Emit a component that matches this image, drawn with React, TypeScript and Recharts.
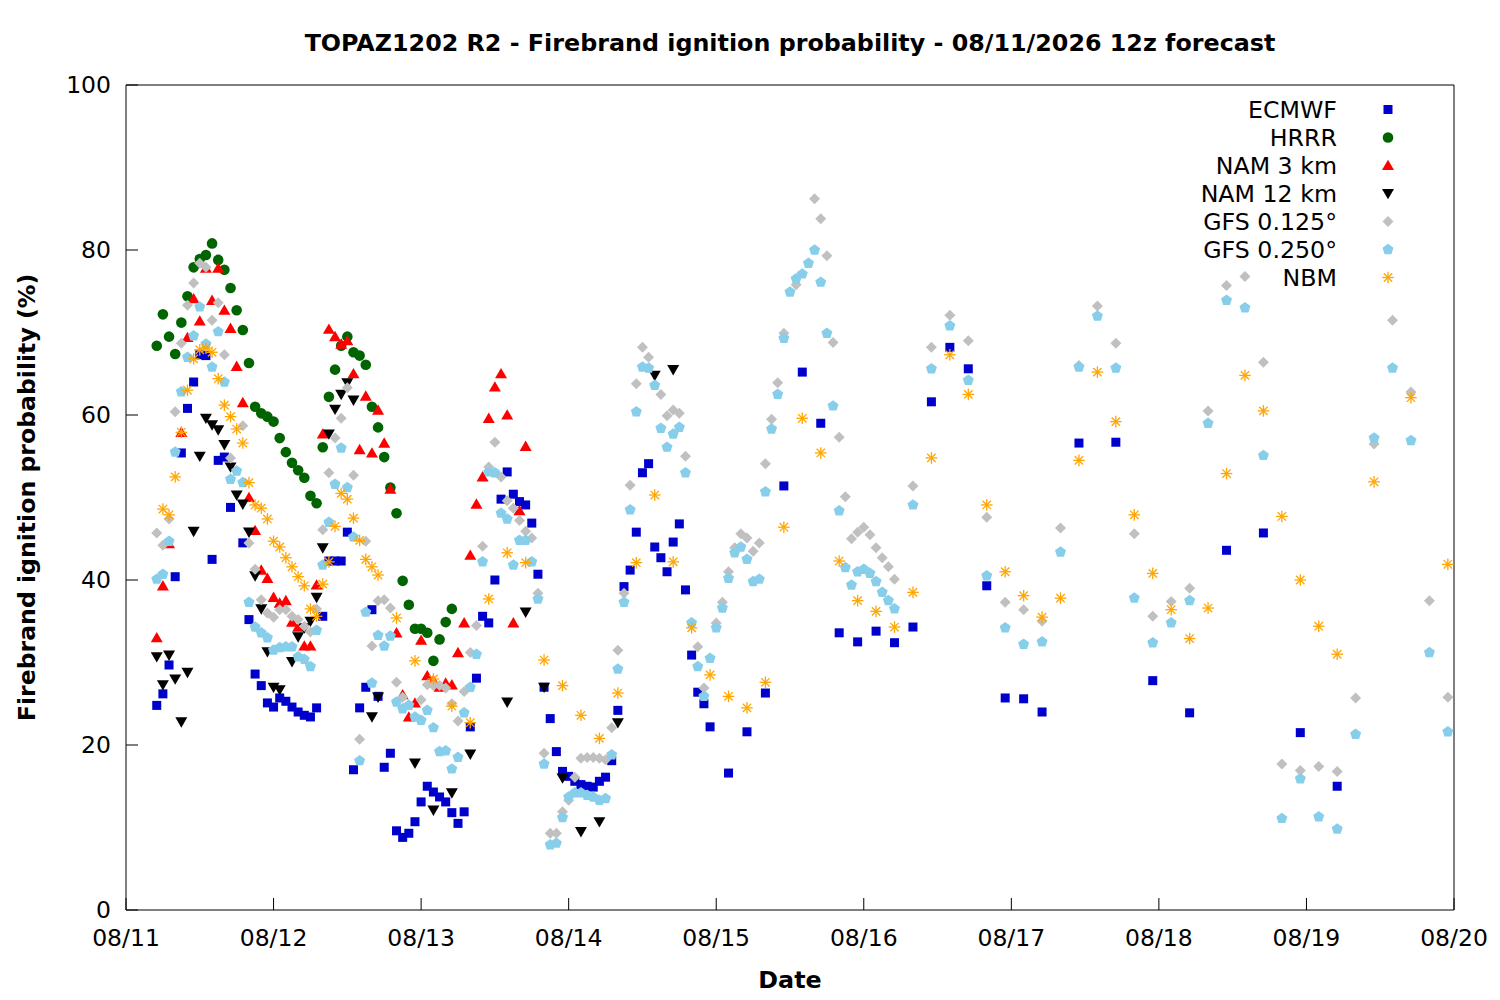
import React from 'react';
import { ScatterChart, Scatter, XAxis, YAxis } from 'recharts';

// ---------- time grids (hours after 08/11 00h) ----------
const range = (a: number, b: number, s: number): number[] => {
  const r: number[] = [];
  for (let h = a; h <= b; h += s) r.push(h);
  return r;
};

const dateTicks = [0, 24, 48, 72, 96, 120, 144, 168, 192, 216];
const dateLabels = ['08/11', '08/12', '08/13', '08/14', '08/15', '08/16', '08/17', '08/18', '08/19', '08/20'];
const probTicks = [0, 20, 40, 60, 80, 100];

const TITLE = 'TOPAZ1202 R2 - Firebrand ignition probability - 08/11/2026 12z forecast';

// ---------- ECMWF ----------
const ecmwfHours = [...range(5, 95, 1), ...range(98, 149, 3), ...range(155, 197, 6)];
const ecmwfValues: (number | null)[] = [
  24.8, 26.2, 29.7, 40.4, 55.4, 60.8, 64.0, 67.3, 67.2, 42.5,
  54.5, 54.9, 48.8, null, 44.5, 35.2, 28.6, 27.2, 25.1, 24.6,
  25.7, 25.3, 24.6, 24.0, 23.6, 23.4, 24.5, 35.6, 42.3, 42.3,
  42.3, 45.8, 17.0, 24.5, 27.0, 36.4, 25.9, 17.3, 19.0, 9.6,
  8.8, 9.3, 10.7, 13.1, 15.0, 14.3, 13.7, 13.1, 11.8, 10.5,
  11.9, 22.2, 28.1, 35.6, 34.8, 40.0, 49.8, 53.1, 50.4, 49.5,
  49.1, 46.9, 40.7, 27.0, 23.2, 19.2, 16.8, 16.2, 15.6, 15.2,
  15.0, 14.9, 15.6, 16.1, 18.1, 24.2, 39.2, 41.2, 45.8, 53.0,
  54.1, 44.0, 42.7, 41.0, 44.6, 46.8, 38.8, 30.9, 26.4, 25.0,
  22.2,
  16.6, 21.6, 26.3, 51.4, 65.2, 59.0, 33.6, 32.5, 33.8, 32.4,
  34.3, 61.6, 68.2, 65.6, 39.3, 25.7, 25.6, 24.0,
  56.6, 56.7, 27.8, 23.9, 43.6, 45.7, 21.5, 15.0,
];

// ---------- HRRR ----------
const hrrrHours = range(5, 53, 1);
const hrrrValues: (number | null)[] = [
  68.4, 72.2, 69.5, 67.4, 71.2, 74.4, 77.9, 78.9, 79.4, 80.8,
  78.8, 77.6, 75.4, 72.7, 70.3, 66.3, 61.0, 60.2, 59.8, 59.2,
  57.2, 55.5, 54.2, 53.3, 52.4, 50.2, 49.3, 56.1, 62.2, 65.5,
  68.4, 69.5, 67.6, 67.2, 66.1, 61.0, 58.5, 54.9, 51.2, 48.1,
  39.9, 37.0, 34.1, 34.1, 33.6, 30.2, 32.8, 34.9, 36.5,
];

// ---------- NAM 3 km ----------
const nam3Hours = range(5, 65, 1);
const nam3Values: (number | null)[] = [
  33.0, 39.3, 44.4, null, 57.9, 69.4, 74.1, 71.4, 77.8, 73.9,
  77.8, 72.7, 70.5, 65.9, 61.5, 50.0, 46.0, 41.2, 40.2, 37.9,
  37.2, 37.5, 34.9, 34.3, 32.0, 32.0, 39.4, 57.7, 70.4, 69.5,
  68.6, 69.0, 65.0, 55.8, 62.3, 55.4, 60.6, 56.6, 51.0, 33.6,
  26.1, 23.4, 25.1, 32.7, 28.4, 27.8, 27.0, 27.5, 27.3, 31.2,
  34.8, 43.0, 49.2, 52.5, 59.6, 63.4, 65.0, 60.0, 34.8, 48.4,
  56.2,
];

// ---------- NAM 12 km ----------
const nam12Hours = [...range(5, 41, 1), ...range(44, 89, 3)];
const nam12Values: (number | null)[] = [
  30.7, 27.3, 30.9, 28.0, 22.8, 28.8, 45.9, 55.0, 59.6, 58.8,
  58.2, 56.4, 53.7, 50.3, 49.2, 45.8, 40.5, 36.5, 31.3, 27.0,
  26.7, null, 30.1, 33.1, 34.2, 35.0, 37.9, 43.9, 57.7, 60.7,
  62.5, 63.9, 61.8, null, null, 23.4, 25.8,
  null, 17.8, 12.1, 14.2, 18.9, null, 25.2, 36.1, 27.0, 16.0,
  9.5, 10.7, 22.7, null, 64.8, 65.5,
];

// ---------- GFS 0.125° ----------
const gfs125Hours = [...range(5, 125, 1), ...range(128, 215, 3)];
const gfs125Values: (number | null)[] = [
  45.7, 44.2, 47.4, 60.4, 68.7, 73.3, 76.0, 78.4, 77.9, 71.5,
  73.6, 67.3, 54.8, null, 58.7, 44.5, 41.3, 37.6, 36.0, 35.5,
  36.4, 36.4, 35.6, 35.2, 34.4, 33.7, 36.5, 46.1, 53.0, 57.2,
  59.6, 63.3, 52.7, 20.7, 44.7, 32.0, 37.5, 37.6, 36.6, 27.6,
  25.8, null, null, 25.5, 27.3, 27.2, 27.2, 26.9, 25.0, 22.9,
  26.5, 31.2, 34.5, 44.1, 53.7, 56.7, 52.5, 49.6, 48.7, 47.2,
  45.9, 45.1, 38.4, 19.0, 9.3, 9.3, 11.9, 13.3, 16.1, 18.4,
  18.5, 18.5, 18.4, 18.2, 22.1, 31.5, 38.4, 51.5, 63.8, 68.2,
  67.0, null, 62.5, 59.9, 60.6, 60.2, 55.0, null, 31.9, 26.9,
  null, 34.8, 37.3, 41.0, 43.9, 45.6, 45.1, 43.5, 44.5, 54.1,
  59.5, 63.9, 69.9, null, 75.8, null, null, 86.2, 83.8, 79.3,
  68.8, 57.3, 50.1, 45.0, 45.8, 46.4, 45.5, 43.9, 42.7, 41.6,
  40.1,
  51.4, 68.2, 72.1, 69.0, 47.6, 37.3, 36.4, 35.0, 46.3, 66.0,
  73.2, 68.7, 45.6, 35.6, 37.4, 39.0, 60.5, 75.7, 76.8, 66.4,
  17.7, 16.9, 17.4, 16.8, 25.7, 56.5, 71.5, 62.8, 37.5, 25.8,
];

// ---------- GFS 0.250° ----------
const gfs250Hours = [...range(5, 125, 1), ...range(128, 215, 3)];
const gfs250Values: (number | null)[] = [
  40.1, 40.7, 44.7, 55.5, 62.8, 67.0, 69.6, 73.1, 68.6, 65.8,
  70.1, 64.0, 52.2, 53.2, 51.8, 37.3, 34.3, 33.6, 33.0, 31.5,
  31.8, 31.9, 31.9, 30.7, 30.4, 29.5, 33.9, 41.8, 47.0, 51.6,
  56.0, 51.2, 45.2, 18.1, 36.1, 27.5, 33.3, 32.0, 33.2, 25.2,
  24.4, 24.8, 23.4, 23.0, 24.2, 22.1, 19.2, 19.3, 17.1, 18.5,
  23.9, 27.0, 31.0, 42.2, 53.1, 53.0, 48.1, 47.4, 41.8, 44.8,
  44.8, 42.2, 37.7, 17.7, 7.9, 8.1, 11.2, 13.7, 14.2, 14.2,
  13.9, 13.7, 13.3, 13.5, 18.8, 29.2, 37.3, 48.5, 60.4, 65.8,
  65.7, 63.6, 58.4, 56.1, 57.7, 58.5, 53.0, 34.8, 29.5, 25.9,
  30.5, 34.2, 36.6, 40.2, 43.3, 44.0, 42.5, 39.8, 40.1, 50.7,
  58.3, 62.5, 69.3, 74.9, 76.5, 77.1, 78.4, 80.0, 76.1, 69.9,
  61.1, 48.4, 41.5, 39.4, 41.0, 41.3, 40.8, 39.8, 38.5, 37.5,
  36.5,
  49.1, 65.6, 70.8, 64.2, 40.5, 34.2, 32.2, 32.5, 43.4, 65.8,
  72.0, 65.7, 37.8, 32.4, 34.8, 37.5, 59.0, 73.9, 73.0, 55.1,
  11.1, 15.9, 11.3, 9.8, 21.3, 57.2, 65.7, 56.9, 31.2, 21.6,
];

// ---------- NBM ----------
const nbmHours = [...range(6, 41, 1), ...range(44, 197, 3), ...range(203, 215, 6)];
const nbmValues: (number | null)[] = [
  48.6, 47.9, 52.5, 57.9, 63.0, 66.8, 67.9, 68.1, 67.6, 64.4,
  61.2, 59.8, 58.3, 56.6, 51.8, 49.1, 48.7, 47.4, 44.7, 44.0,
  42.7, 41.6, 40.4, 39.3, 36.5, 35.6, 39.5, 42.2, 46.5, 50.5,
  49.8, 47.5, 44.8, 42.5, 41.6, 40.6,
  35.4, 30.2, 28.0, 24.7, 22.7, 37.7, 43.3, 42.1, 30.3, 27.2,
  23.6, 20.8, 26.3, 42.1, 50.3, 42.2, 34.2, 28.5, 25.9, 24.5,
  27.6, 46.4, 59.6, 55.4, 42.3, 37.5, 36.2, 34.3, 38.5, 54.8,
  67.3, 62.5, 49.1, 41.0, 38.1, 35.5, 37.8, 54.5, 65.2, 59.2,
  47.9, 40.8, 36.4, 32.9, 36.6, 52.9, 64.8, 60.5, 47.7, 40.0,
  34.4, 31.0,
  51.9, 62.1, 41.9,
];

type Pt = { x: number; y: number };
const toPoints = (hours: number[], values: (number | null)[]): Pt[] =>
  hours
    .map((h, i) => ({ x: h, y: values[i] }))
    .filter((p): p is Pt => p.y !== null && p.y !== undefined);

type Kind = 'square' | 'circle' | 'triUp' | 'triDown' | 'diamond' | 'pentagon' | 'asterisk';

const seriesDefs: { name: string; kind: Kind; color: string; data: Pt[] }[] = [
  { name: 'ECMWF', kind: 'square', color: '#0000cc', data: toPoints(ecmwfHours, ecmwfValues) },
  { name: 'HRRR', kind: 'circle', color: '#006400', data: toPoints(hrrrHours, hrrrValues) },
  { name: 'NAM 3 km', kind: 'triUp', color: '#ff0000', data: toPoints(nam3Hours, nam3Values) },
  { name: 'NAM 12 km', kind: 'triDown', color: '#000000', data: toPoints(nam12Hours, nam12Values) },
  { name: 'GFS 0.125°', kind: 'diamond', color: '#c0c0c0', data: toPoints(gfs125Hours, gfs125Values) },
  { name: 'GFS 0.250°', kind: 'pentagon', color: '#87ceeb', data: toPoints(gfs250Hours, gfs250Values) },
  { name: 'NBM', kind: 'asterisk', color: '#ffa500', data: toPoints(nbmHours, nbmValues) },
];

function Marker({ cx, cy, kind, color }: { cx: number; cy: number; kind: Kind; color: string }) {
  if (cx == null || cy == null || isNaN(cx) || isNaN(cy)) return null;
  switch (kind) {
    case 'square':
      return <rect x={cx - 4.5} y={cy - 4.5} width={9} height={9} fill={color} />;
    case 'circle':
      return <circle cx={cx} cy={cy} r={5.3} fill={color} />;
    case 'triUp':
      return <polygon points={`${cx},${cy - 5.8} ${cx + 6},${cy + 4.6} ${cx - 6},${cy + 4.6}`} fill={color} />;
    case 'triDown':
      return <polygon points={`${cx - 6},${cy - 4.6} ${cx + 6},${cy - 4.6} ${cx},${cy + 5.8}`} fill={color} />;
    case 'diamond':
      return <polygon points={`${cx},${cy - 5.5} ${cx + 5.5},${cy} ${cx},${cy + 5.5} ${cx - 5.5},${cy}`} fill={color} />;
    case 'pentagon': {
      const r = 5.8;
      const pts = [0, 1, 2, 3, 4]
        .map((k) => {
          const a = -Math.PI / 2 + (k * 2 * Math.PI) / 5;
          return `${cx + r * Math.cos(a)},${cy + r * Math.sin(a)}`;
        })
        .join(' ');
      return <polygon points={pts} fill={color} />;
    }
    case 'asterisk': {
      const r = 5.8;
      const d = r * 0.72;
      return (
        <g stroke={color} strokeWidth={1.3}>
          <line x1={cx - r} y1={cy} x2={cx + r} y2={cy} />
          <line x1={cx} y1={cy - r} x2={cx} y2={cy + r} />
          <line x1={cx - d} y1={cy - d} x2={cx + d} y2={cy + d} />
          <line x1={cx - d} y1={cy + d} x2={cx + d} y2={cy - d} />
        </g>
      );
    }
  }
  return null;
}

const W = 1484;
const H = 990;
const FONT = '"DejaVu Sans", sans-serif';

export default function App() {
  return (
    <div style={{ position: 'relative', width: W, height: H, fontFamily: FONT }}>
      <ScatterChart width={W} height={H} margin={{ top: 76, right: 37, bottom: 48, left: 0 }}>
        <XAxis
          xAxisId="b"
          dataKey="x"
          type="number"
          domain={[0, 216]}
          ticks={dateTicks}
          interval={0}
          allowDataOverflow
          height={40}
          tickFormatter={(v: number) => dateLabels[Math.round(v / 24)]}
          tick={{ fontSize: 23.5, fill: '#000' }}
          tickSize={-12}
          tickMargin={31}
          tickLine={{ stroke: '#000' }}
          axisLine={{ stroke: '#000' }}
          label={{ value: 'Date', position: 'bottom', offset: 21, fill: '#000', fontSize: 23.8, fontWeight: 'bold' }}
        />
        <XAxis
          xAxisId="t"
          orientation="top"
          type="number"
          domain={[0, 216]}
          ticks={dateTicks}
          interval={0}
          allowDataOverflow
          height={1}
          tick={false}
          tickSize={-12}
          tickLine={{ stroke: '#000' }}
          axisLine={{ stroke: '#000' }}
          label={{ value: TITLE, position: 'top', offset: 33, fill: '#000', fontSize: 23.8, fontWeight: 'bold' }}
        />
        <YAxis
          yAxisId="l"
          dataKey="y"
          type="number"
          domain={[0, 100]}
          ticks={probTicks}
          interval={0}
          allowDataOverflow
          width={118}
          tick={{ fontSize: 23.5, fill: '#000' }}
          tickSize={-12}
          tickMargin={27}
          tickLine={{ stroke: '#000' }}
          axisLine={{ stroke: '#000' }}
          label={{
            value: 'Firebrand ignition probability (%)',
            angle: -90,
            position: 'insideLeft',
            offset: 19,
            fill: '#000',
            fontSize: 23.6,
            fontWeight: 'bold',
            style: { textAnchor: 'middle' },
          }}
        />
        <YAxis
          yAxisId="r"
          orientation="right"
          type="number"
          domain={[0, 100]}
          ticks={probTicks}
          interval={0}
          allowDataOverflow
          width={1}
          tick={false}
          tickSize={-12}
          tickLine={{ stroke: '#000' }}
          axisLine={{ stroke: '#000' }}
        />
        {seriesDefs.map((s) => (
          <Scatter
            key={s.name}
            name={s.name}
            data={s.data}
            xAxisId="b"
            yAxisId="l"
            isAnimationActive={false}
            shape={(p: any) => <Marker cx={p.cx} cy={p.cy} kind={s.kind} color={s.color} />}
          />
        ))}
      </ScatterChart>
      <svg
        width={W}
        height={H}
        style={{ position: 'absolute', left: 0, top: 0, pointerEvents: 'none' }}
      >
        {seriesDefs.map((s, i) => {
          const cy = 101.5 + i * 28;
          return (
            <g key={s.name}>
              <text x={1329} y={cy + 8.6} textAnchor="end" fontSize={23.7} fill="#000" fontFamily={FONT}>
                {s.name}
              </text>
              <Marker cx={1380} cy={cy} kind={s.kind} color={s.color} />
            </g>
          );
        })}
      </svg>
    </div>
  );
}
